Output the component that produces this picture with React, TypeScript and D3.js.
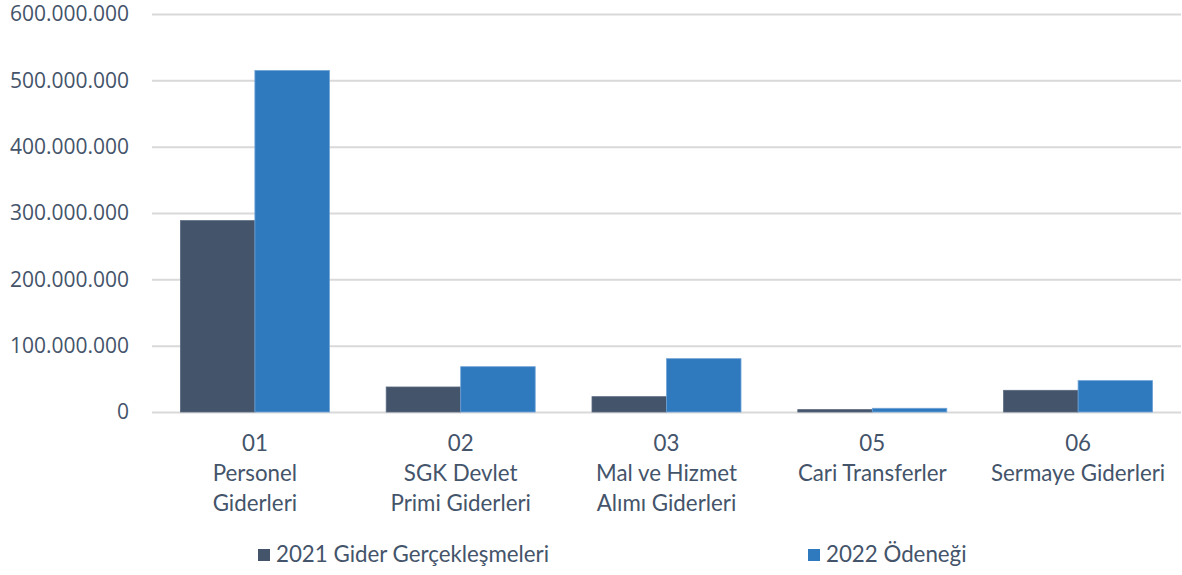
import React, { useEffect, useRef } from 'react';
import * as d3 from 'd3';

const categories = ['01', '02', '03', '05', '06'];
const categoryNames = [
    ['Personel', 'Giderleri'],
    ['SGK Devlet', 'Primi Giderleri'],
    ['Mal ve Hizmet', 'Alımı Giderleri'],
    ['Cari Transferler'],
    ['Sermaye Giderleri'],
];
const seriesNames = ['2021 Gider Gerçekleşmeleri', '2022 Ödeneği'];
const gider2021 = [288500000, 37700000, 23100000, 3600000, 32700000];
const odenek2022 = [514800000, 68300000, 80400000, 5600000, 47300000];
const yTicks = [0, 100000000, 200000000, 300000000, 400000000, 500000000, 600000000];

const colors = ['#44546A', '#2F79BE'];
const strokes = ['#5A6980', '#6FA3D6'];
const textColor = '#44546A';
const labelFont = 'Lato, "Open Sans", sans-serif';

const formatTick = (v: number) => d3.format(',')(v).replace(/,/g, '.');

const App = () => {
    const svgRef = useRef(null);

    useEffect(() => {
        if (!svgRef.current) return;

        const svg = d3.select(svgRef.current);
        svg.selectAll('*').remove();

        // Scales
        const x0 = d3.scaleBand()
            .domain(categories)
            .range([152, 1181])
            .paddingInner(0.276)
            .paddingOuter(0.138);

        const x1 = d3.scaleBand()
            .domain(seriesNames)
            .range([0, x0.bandwidth()]);

        const y = d3.scaleLinear()
            .domain([0, 600000000])
            .range([412, 14]);

        // Grid + y labels
        const yAxis = d3.axisLeft(y)
            .tickValues(yTicks)
            .tickSize(-(1181 - 152))
            .tickPadding(23)
            .tickFormat(d => formatTick(d as number));

        const gy = svg.append('g')
            .attr('transform', 'translate(152,0)')
            .call(yAxis);
        gy.select('.domain').remove();
        gy.selectAll('line')
            .attr('stroke', '#D9D9D9')
            .attr('stroke-width', 2);
        gy.selectAll('text')
            .attr('fill', textColor)
            .attr('font-size', '21px')
            .attr('font-family', '"Open Sans", sans-serif');

        // Bars
        const data = categories.map((c, i) => ({ c, values: [gider2021[i], odenek2022[i]] }));

        const groups = svg.append('g')
            .selectAll('g')
            .data(data)
            .join('g')
            .attr('transform', d => `translate(${x0(d.c)},0)`);

        groups.selectAll('rect')
            .data(d => d.values.map((v, k) => ({ k, v })))
            .join('rect')
            .attr('x', d => x1(seriesNames[d.k]))
            .attr('y', d => y(d.v))
            .attr('width', x1.bandwidth())
            .attr('height', d => y(0) - y(d.v))
            .attr('fill', d => colors[d.k])
            .attr('stroke', d => strokes[d.k])
            .attr('stroke-width', 0.8);

        // Category labels
        const labels = svg.append('g')
            .selectAll('text')
            .data(categories)
            .join('text')
            .attr('x', d => x0(d) + x0.bandwidth() / 2)
            .attr('y', 451)
            .attr('text-anchor', 'middle')
            .attr('fill', textColor)
            .attr('font-size', '22.3px')
            .attr('font-family', labelFont);

        labels.each(function (d, i) {
            const t = d3.select(this);
            const lines = [d, ...categoryNames[i]];
            lines.forEach((line, j) => {
                t.append('tspan')
                    .attr('x', x0(d) + x0.bandwidth() / 2)
                    .attr('dy', j === 0 ? 0 : 30)
                    .text(line);
            });
        });

        // Legend
        const legendX = [258, 808];
        const legend = svg.append('g')
            .selectAll('g')
            .data(seriesNames)
            .join('g')
            .attr('transform', (d, i) => `translate(${legendX[i]},549)`);

        legend.append('rect')
            .attr('width', 12)
            .attr('height', 12)
            .attr('fill', (d, i) => colors[i]);

        legend.append('text')
            .attr('x', 18)
            .attr('y', 13)
            .attr('fill', textColor)
            .attr('font-size', '22.3px')
            .attr('font-family', labelFont)
            .text(d => d);
    }, []);

    return (
        <svg
            ref={svgRef}
            width={1182}
            height={575}
            style={{ position: 'absolute', left: 0, top: 0, display: 'block', background: '#fff' }}
        />
    );
};

export default App;
